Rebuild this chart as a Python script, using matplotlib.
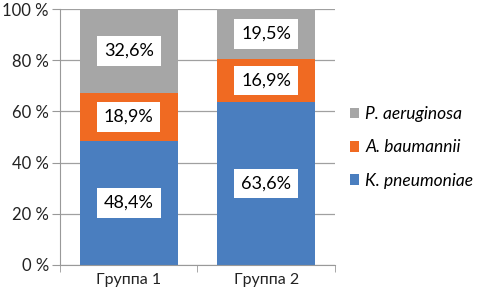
import matplotlib
matplotlib.use("Agg")
import matplotlib.pyplot as plt
import numpy as np

groups = ["Группа 1", "Группа 2"]
k_pneumoniae = [48.4, 63.6]
a_baumannii = [18.9, 16.9]
p_aeruginosa = [32.6, 19.5]
series_names = ["K. pneumoniae", "A. baumannii", "P. aeruginosa"]
colors = ["#4a7ebf", "#f06a22", "#a6a6a6"]

plt.rcParams['font.family'] = ['Lato', 'DejaVu Sans']

fig = plt.figure(figsize=(4.84, 2.95), dpi=100)
ax = fig.add_axes([0.124, 0.102, 0.568, 0.867])

x = np.arange(len(groups))
bottom = np.zeros(len(groups))
handles = []
for vals, name, c in zip([k_pneumoniae, a_baumannii, p_aeruginosa], series_names, colors):
    vals = np.array(vals)
    h = ax.bar(x, vals, 0.71, bottom=bottom, color=c, label=name, zorder=2)
    handles.append(h)
    for xi, b, v in zip(x, bottom, vals):
        ax.text(xi, b + v / 2, ("%.1f%%" % v).replace(".", ","), ha="center", va="center",
                fontsize=13, zorder=3,
                bbox=dict(boxstyle="square,pad=0.38", fc="white", ec="none"))
    bottom += vals

ax.set_xlim(-0.5, 1.5)
ax.set_ylim(0, 100)
ax.set_yticks(range(0, 101, 20))
ax.set_yticklabels(["%d %%" % t for t in range(0, 101, 20)], fontsize=12, color="#222222")
ax.set_xticks(x)
ax.set_xticklabels(groups, fontsize=11.5, color="#222222")
ax.set_xticks([-0.5, 0.5, 1.5], minor=True)
ax.tick_params(axis="x", which="major", length=0, pad=6)
ax.tick_params(axis="x", which="minor", length=5, color="#999999")
ax.tick_params(axis="y", length=6, color="#999999", pad=2)
ax.grid(axis="y", color="#a0a0a0", linewidth=0.9, zorder=0)
ax.set_axisbelow(True)
for s in ["top", "right"]:
    ax.spines[s].set_visible(False)
ax.spines["left"].set_color("#999999")
ax.spines["bottom"].set_color("#999999")

leg = fig.legend(handles[::-1], series_names[::-1], loc="center left",
                 bbox_to_anchor=(0.69, 0.5), frameon=False, handlelength=0.55,
                 handleheight=0.55, handletextpad=0.35, labelspacing=1.0,
                 prop={"style": "italic", "size": 12.5})

fig.savefig("out.png", dpi=100)
